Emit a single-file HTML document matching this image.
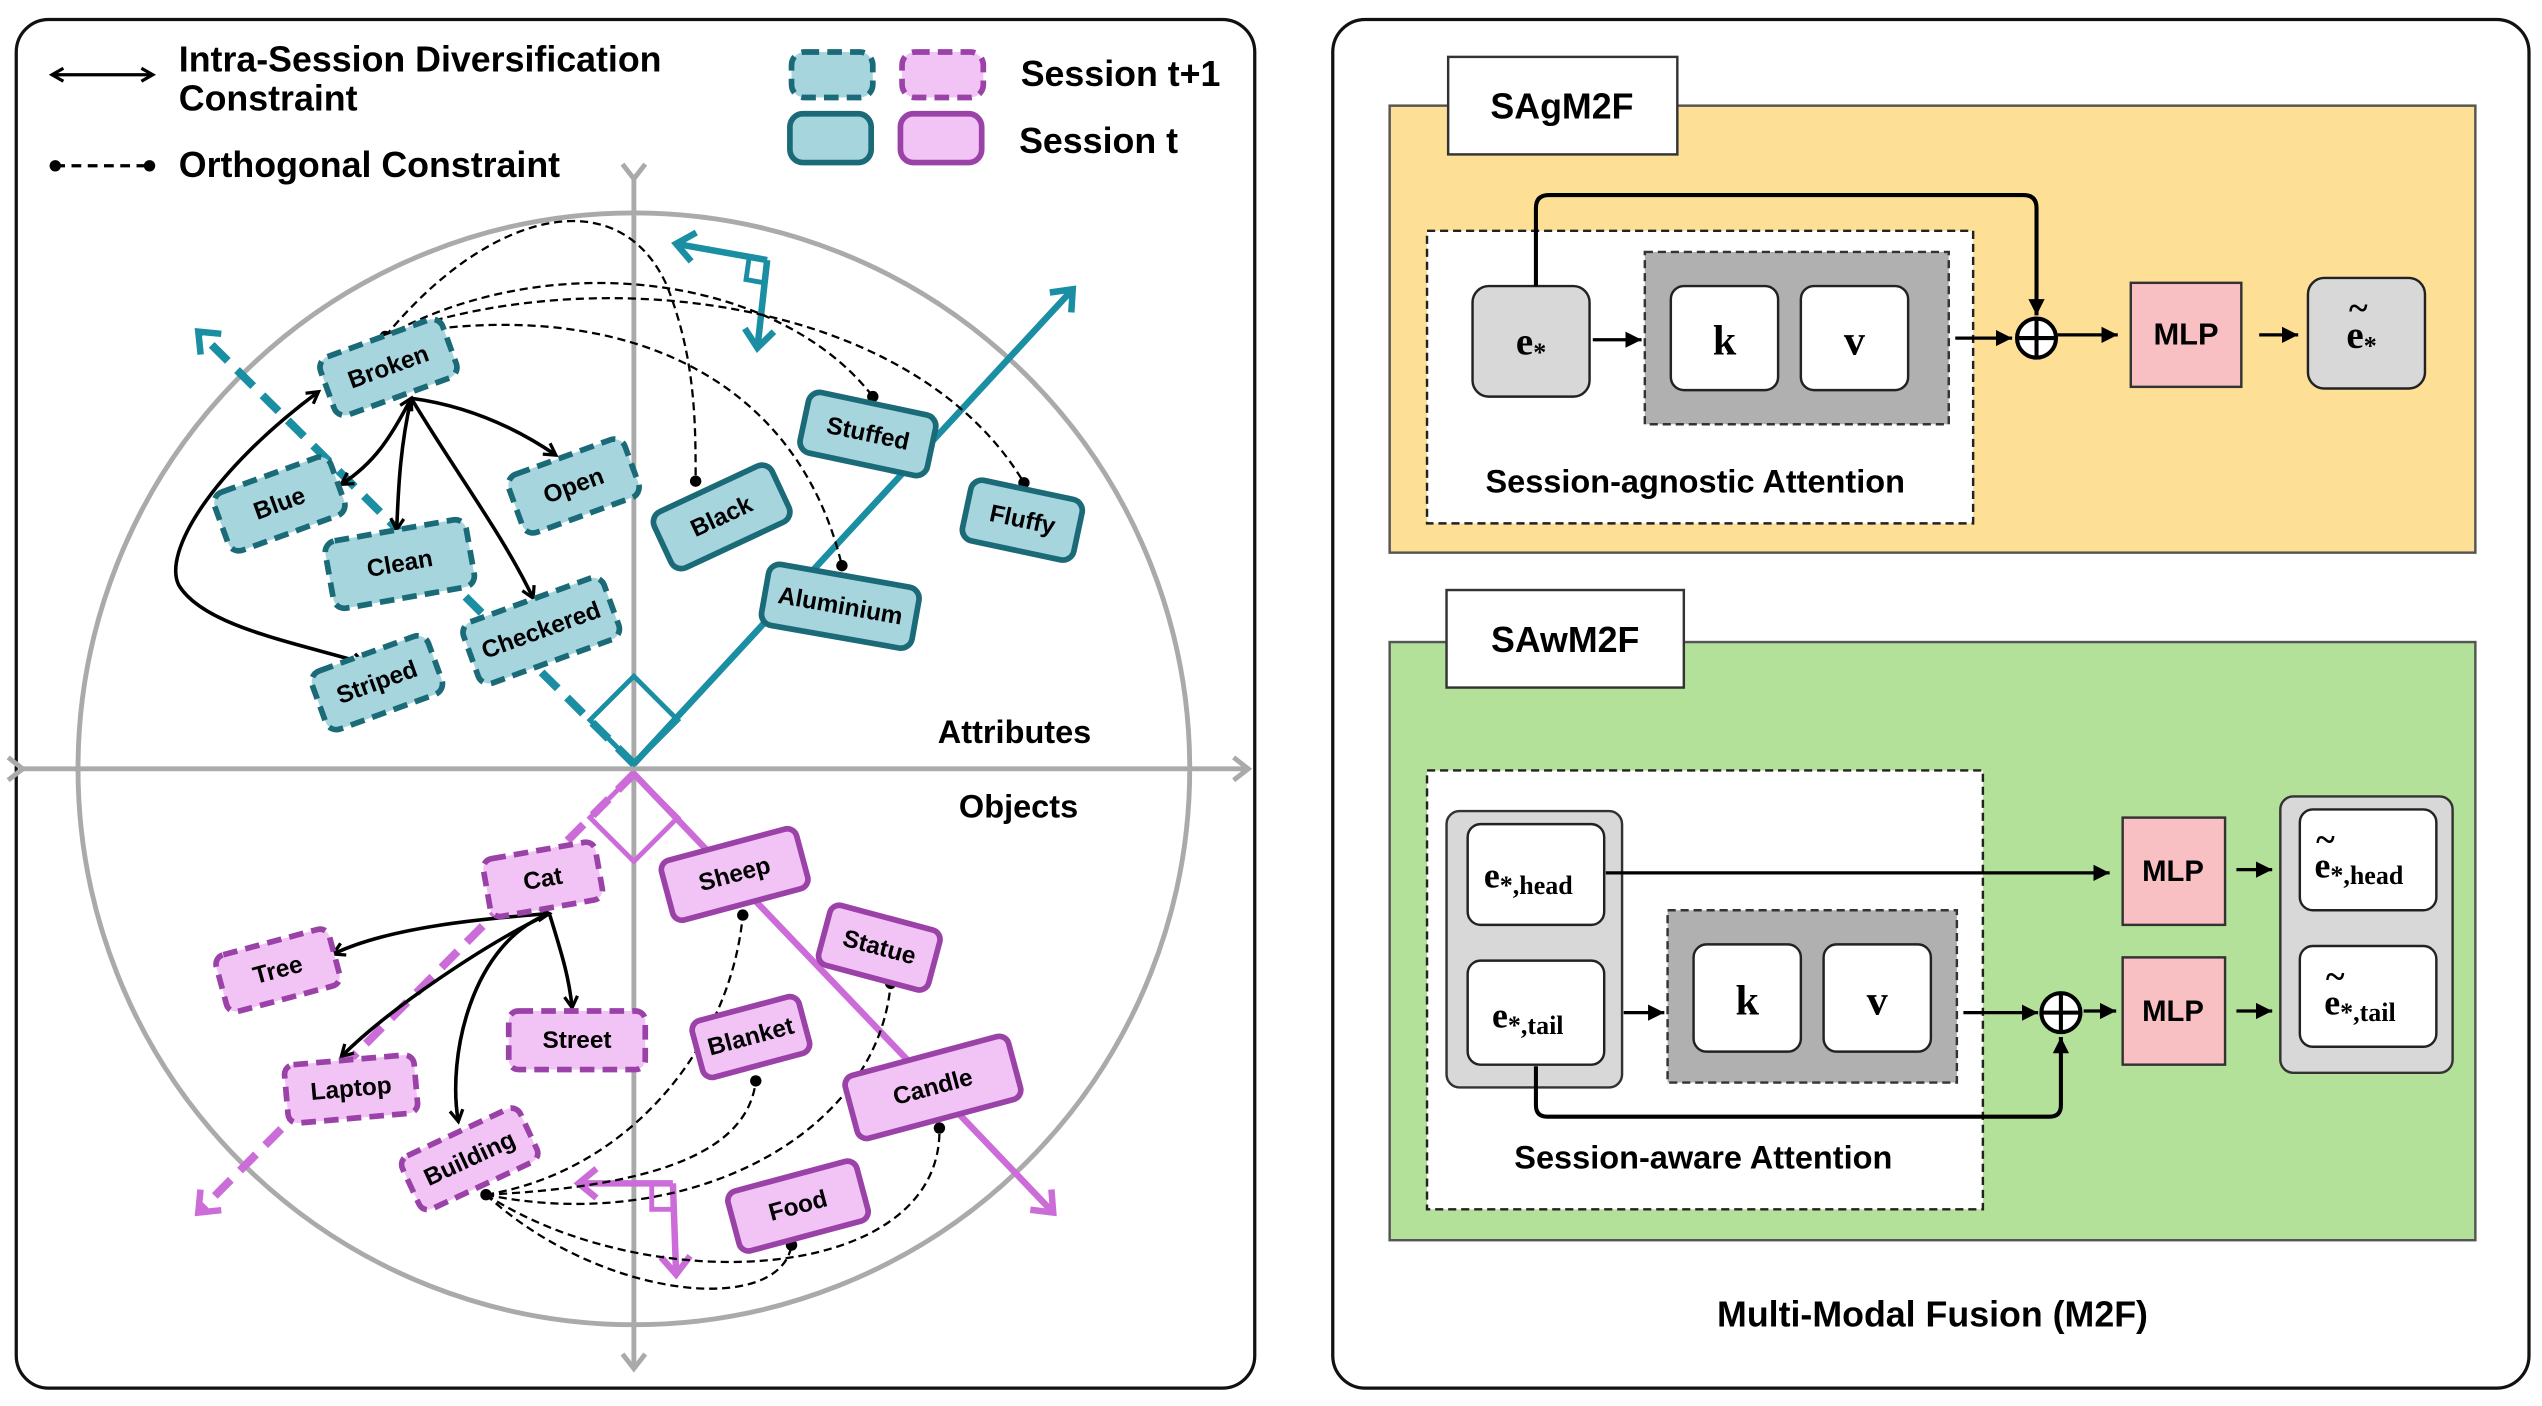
<!DOCTYPE html>
<html><head><meta charset="utf-8"><style>
html,body{margin:0;padding:0;background:#fff;width:2542px;height:1406px;overflow:hidden}
svg{display:block}
text{font-family:"Liberation Sans","DejaVu Sans",sans-serif;font-weight:bold}
.lb{font-size:15px;text-anchor:middle;dominant-baseline:central}
.tb{fill:#a6d5de;stroke:#1b6a78;stroke-width:3.5}
.pb{fill:#f2c4f6;stroke:#9a42a8;stroke-width:3.5}
.d{stroke-dasharray:9 5}
.con{fill:none;stroke:#000;stroke-width:2.2}
.orth{fill:none;stroke:#000;stroke-width:1.4;stroke-dasharray:5 3}
.e{font-family:"Liberation Serif",serif;font-weight:bold}
</style></head><body>
<svg width="2542" height="1406" viewBox="0 0 1564 865" preserveAspectRatio="none">
<defs>
<marker id="ah" markerWidth="10" markerHeight="10" refX="8" refY="5" orient="auto" markerUnits="userSpaceOnUse"><path d="M1,1 L8,5 L1,9" fill="none" stroke="#000" stroke-width="2"/></marker>
<marker id="ahs" markerWidth="10" markerHeight="10" refX="2" refY="5" orient="auto" markerUnits="userSpaceOnUse"><path d="M9,1 L2,5 L9,9" fill="none" stroke="#000" stroke-width="2"/></marker>
<marker id="af" markerWidth="12" markerHeight="12" refX="10" refY="6" orient="auto" markerUnits="userSpaceOnUse"><path d="M0,1 L10,6 L0,11 z" fill="#000"/></marker>
<marker id="at" markerWidth="24" markerHeight="24" refX="14" refY="12" orient="auto" markerUnits="userSpaceOnUse"><path d="M3,3 L14,12 L3,21" fill="none" stroke="#1a8ea2" stroke-width="4"/></marker>
<marker id="ap" markerWidth="24" markerHeight="24" refX="14" refY="12" orient="auto" markerUnits="userSpaceOnUse"><path d="M3,3 L14,12 L3,21" fill="none" stroke="#cc6cd8" stroke-width="4"/></marker>
<marker id="ag" markerWidth="20" markerHeight="20" refX="12" refY="10" orient="auto" markerUnits="userSpaceOnUse"><path d="M3,3 L12,10 L3,17" fill="none" stroke="#aaa" stroke-width="3"/></marker>
<marker id="dot" markerWidth="8" markerHeight="8" refX="4" refY="4" markerUnits="userSpaceOnUse"><circle cx="4" cy="4" r="3.5" fill="#000"/></marker>
</defs>

<rect x="10" y="12" width="762" height="842" rx="20" fill="#fff" stroke="#111" stroke-width="2"/>
<rect x="820" y="12" width="736" height="842" rx="20" fill="#fff" stroke="#111" stroke-width="2"/>

<circle cx="390" cy="473" r="342" fill="none" stroke="#aaa" stroke-width="3"/>
<line x1="14" y1="473" x2="768" y2="473" stroke="#aaa" stroke-width="3" marker-end="url(#ag)" marker-start="url(#ag)"/>
<line x1="390" y1="110" x2="390" y2="842" stroke="#aaa" stroke-width="3" marker-end="url(#ag)" marker-start="url(#ag)"/>

<line x1="390" y1="470" x2="660" y2="178" stroke="#1a8ea2" stroke-width="4" marker-end="url(#at)"/>
<line x1="390" y1="470" x2="122" y2="204" stroke="#1a8ea2" stroke-width="5" stroke-dasharray="14 8" marker-end="url(#at)"/>
<path d="M390,470 L363,443 L390,416 L417,443 Z" fill="none" stroke="#1a8ea2" stroke-width="3"/>
<line x1="390" y1="476" x2="648" y2="746" stroke="#cc6cd8" stroke-width="4" marker-end="url(#ap)"/>
<line x1="390" y1="476" x2="122" y2="746" stroke="#cc6cd8" stroke-width="5" stroke-dasharray="14 8" marker-end="url(#ap)"/>
<path d="M390,476 L363,503 L390,530 L417,503 Z" fill="none" stroke="#cc6cd8" stroke-width="3"/>

<line x1="472" y1="160" x2="416" y2="150" stroke="#1a8ea2" stroke-width="4" marker-end="url(#at)"/>
<line x1="472" y1="160" x2="466" y2="214" stroke="#1a8ea2" stroke-width="4" marker-end="url(#at)"/>
<path d="M461,158 L459,172 L470,174" fill="none" stroke="#1a8ea2" stroke-width="3"/>
<line x1="414" y1="728" x2="356" y2="728" stroke="#cc6cd8" stroke-width="4" marker-end="url(#ap)"/>
<line x1="414" y1="728" x2="416" y2="784" stroke="#cc6cd8" stroke-width="4" marker-end="url(#ap)"/>
<path d="M401,728 L401,744 L414,744" fill="none" stroke="#cc6cd8" stroke-width="3"/>

<g class="orth">
<path d="M237,207 C300,130 380,110 410,175 C428,220 428,260 428,296" marker-start="url(#dot)" marker-end="url(#dot)"/>
<path d="M237,207 C340,150 480,170 537,244" marker-end="url(#dot)"/>
<path d="M237,207 C360,160 560,180 630,297" marker-end="url(#dot)"/>
<path d="M237,207 C380,180 490,230 518,348" marker-end="url(#dot)"/>
<path d="M299,735 C390,720 450,640 457,563" marker-start="url(#dot)" marker-end="url(#dot)"/>
<path d="M299,735 C400,730 460,710 465,665" marker-end="url(#dot)"/>
<path d="M299,735 C420,760 540,700 548,605" marker-end="url(#dot)"/>
<path d="M299,735 C400,800 580,790 578,694" marker-end="url(#dot)"/>
<path d="M299,735 C370,800 480,810 487,766" marker-end="url(#dot)"/>
</g>

<g class="con">
<path d="M253,245 C240,270 230,285 210,298" marker-end="url(#ah)" marker-start="url(#ahs)"/>
<path d="M253,245 C245,280 245,310 244,326" marker-end="url(#ah)"/>
<path d="M253,245 C290,250 320,265 342,280" marker-end="url(#ah)"/>
<path d="M253,245 C280,290 310,330 328,368" marker-end="url(#ah)"/>
<path d="M196,241 C130,290 100,340 110,360 C125,385 180,395 224,408" marker-end="url(#ah)" marker-start="url(#ahs)"/>
<path d="M338,562 C300,565 240,570 205,587" marker-end="url(#ah)" marker-start="url(#ahs)"/>
<path d="M338,562 C300,580 240,620 210,650" marker-end="url(#ah)"/>
<path d="M338,562 C345,585 350,600 352,620" marker-end="url(#ah)"/>
<path d="M338,562 C290,580 275,650 282,690" marker-end="url(#ah)"/>
</g>

<g transform="translate(239,226) rotate(-20)"><rect x="-40" y="-19" width="80" height="38" rx="7" class="tb d"/><text class="lb">Broken</text></g>
<g transform="translate(172,310) rotate(-20)"><rect x="-38" y="-19" width="76" height="38" rx="7" class="tb d"/><text class="lb">Blue</text></g>
<g transform="translate(246,347) rotate(-10)"><rect x="-44" y="-21" width="88" height="42" rx="7" class="tb d"/><text class="lb">Clean</text></g>
<g transform="translate(353,299) rotate(-20)"><rect x="-38" y="-19" width="76" height="38" rx="7" class="tb d"/><text class="lb">Open</text></g>
<g transform="translate(232,420) rotate(-20)"><rect x="-38" y="-19" width="76" height="38" rx="7" class="tb d"/><text class="lb">Striped</text></g>
<g transform="translate(333,388) rotate(-20)"><rect x="-46" y="-20" width="92" height="40" rx="7" class="tb d"/><text class="lb">Checkered</text></g>
<g transform="translate(534,267) rotate(12)"><rect x="-40" y="-19" width="80" height="38" rx="7" class="tb"/><text class="lb">Stuffed</text></g>
<g transform="translate(444,318) rotate(-25)"><rect x="-40" y="-19" width="80" height="38" rx="7" class="tb"/><text class="lb">Black</text></g>
<g transform="translate(629,320) rotate(12)"><rect x="-35" y="-19" width="70" height="38" rx="7" class="tb"/><text class="lb">Fluffy</text></g>
<g transform="translate(517,373) rotate(10)"><rect x="-47" y="-19" width="94" height="38" rx="7" class="tb"/><text class="lb">Aluminium</text></g>

<g transform="translate(334,541) rotate(-10)"><rect x="-35" y="-18" width="70" height="36" rx="6" class="pb d"/><text class="lb">Cat</text></g>
<g transform="translate(171,597) rotate(-15)"><rect x="-36" y="-18" width="72" height="36" rx="6" class="pb d"/><text class="lb">Tree</text></g>
<g transform="translate(216,670) rotate(-5)"><rect x="-40" y="-18" width="80" height="36" rx="6" class="pb d"/><text class="lb">Laptop</text></g>
<g transform="translate(355,640)"><rect x="-42" y="-18" width="84" height="36" rx="6" class="pb d"/><text class="lb">Street</text></g>
<g transform="translate(289,713) rotate(-25)"><rect x="-40" y="-18" width="80" height="36" rx="6" class="pb d"/><text class="lb">Building</text></g>
<g transform="translate(452,538) rotate(-15)"><rect x="-43" y="-19" width="86" height="38" rx="6" class="pb"/><text class="lb">Sheep</text></g>
<g transform="translate(541,583) rotate(15)"><rect x="-35" y="-19" width="70" height="38" rx="6" class="pb"/><text class="lb">Statue</text></g>
<g transform="translate(462,638) rotate(-15)"><rect x="-34" y="-18" width="68" height="36" rx="6" class="pb"/><text class="lb">Blanket</text></g>
<g transform="translate(574,669) rotate(-15)"><rect x="-52" y="-20" width="104" height="40" rx="6" class="pb"/><text class="lb">Candle</text></g>
<g transform="translate(491,742) rotate(-15)"><rect x="-41" y="-19" width="82" height="38" rx="6" class="pb"/><text class="lb">Food</text></g>

<text x="577" y="457" font-size="20">Attributes</text>
<text x="590" y="503" font-size="20">Objects</text>

<line x1="32" y1="46" x2="94" y2="46" stroke="#000" stroke-width="2" marker-end="url(#ah)" marker-start="url(#ahs)"/>
<text x="110" y="44" font-size="22">Intra-Session Diversification</text>
<text x="110" y="68" font-size="22">Constraint</text>
<line x1="34" y1="102" x2="92" y2="102" stroke="#000" stroke-width="2" stroke-dasharray="6 4" marker-start="url(#dot)" marker-end="url(#dot)"/>
<text x="110" y="109" font-size="22">Orthogonal Constraint</text>
<rect x="487" y="32" width="50" height="28" rx="8" class="tb d"/>
<rect x="555" y="32" width="50" height="28" rx="8" class="pb d"/>
<rect x="486" y="70" width="50" height="30" rx="8" class="tb"/>
<rect x="554" y="70" width="50" height="30" rx="8" class="pb"/>
<text x="628" y="53" font-size="22">Session t+1</text>
<text x="627" y="94" font-size="22">Session t</text>

<rect x="855" y="65" width="668" height="275" fill="#fde096" stroke="#555" stroke-width="1.5"/>
<rect x="891" y="35" width="141" height="60" fill="#fff" stroke="#333" stroke-width="1.5"/>
<text x="961" y="73" font-size="22" text-anchor="middle">SAgM2F</text>
<rect x="878" y="142" width="336" height="180" fill="#fff" stroke="#222" stroke-width="1.5" stroke-dasharray="5 3"/>
<rect x="906" y="176" width="72" height="68" rx="10" fill="#d8d8d8" stroke="#222" stroke-width="1.5"/>
<text x="942" y="218" class="e" font-size="24" text-anchor="middle">e<tspan font-size="16" dy="4">*</tspan></text>
<rect x="1012" y="155" width="187" height="106" fill="#b0b0b0" stroke="#333" stroke-width="1.5" stroke-dasharray="5 3"/>
<rect x="1028" y="176" width="66" height="64" rx="8" fill="#fff" stroke="#222" stroke-width="1.5"/>
<rect x="1108" y="176" width="66" height="64" rx="8" fill="#fff" stroke="#222" stroke-width="1.5"/>
<text x="1061" y="218" class="e" font-size="26" text-anchor="middle">k</text>
<text x="1141" y="218" class="e" font-size="26" text-anchor="middle">v</text>
<line x1="980" y1="209" x2="1010" y2="209" stroke="#000" stroke-width="2" marker-end="url(#af)"/>
<line x1="1203" y1="208" x2="1238" y2="208" stroke="#000" stroke-width="2" marker-end="url(#af)"/>
<path d="M945,176 L945,128 Q945,120 953,120 L1245,120 Q1253,120 1253,128 L1253,194" fill="none" stroke="#000" stroke-width="2.5" marker-end="url(#af)"/>
<circle cx="1253" cy="208" r="12" fill="#fff" stroke="#000" stroke-width="2.5"/>
<path d="M1241,208 H1265 M1253,196 V220" stroke="#000" stroke-width="2.5"/>
<line x1="1266" y1="206" x2="1303" y2="206" stroke="#000" stroke-width="2" marker-end="url(#af)"/>
<rect x="1311" y="174" width="68" height="64" fill="#f9c0c4" stroke="#333" stroke-width="1.5"/>
<text x="1345" y="212" font-size="19" text-anchor="middle">MLP</text>
<line x1="1390" y1="206" x2="1414" y2="206" stroke="#000" stroke-width="2" marker-end="url(#af)"/>
<rect x="1420" y="171" width="72" height="68" rx="10" fill="#d8d8d8" stroke="#222" stroke-width="1.5"/>
<text x="1453" y="214" class="e" font-size="24" text-anchor="middle">e<tspan font-size="16" dy="4">*</tspan></text>
<text x="1451" y="197" class="e" font-size="22" text-anchor="middle">~</text>
<text x="1043" y="303" font-size="20" text-anchor="middle">Session-agnostic Attention</text>

<rect x="855" y="395" width="668" height="368" fill="#b3e19a" stroke="#555" stroke-width="1.5"/>
<rect x="890" y="363" width="146" height="60" fill="#fff" stroke="#333" stroke-width="1.5"/>
<text x="963" y="401" font-size="22" text-anchor="middle">SAwM2F</text>
<rect x="878" y="474" width="342" height="270" fill="#fff" stroke="#222" stroke-width="1.5" stroke-dasharray="5 3"/>
<rect x="890" y="499" width="108" height="170" rx="8" fill="#d8d8d8" stroke="#333" stroke-width="1.5"/>
<rect x="903" y="507" width="84" height="62" rx="8" fill="#fff" stroke="#222" stroke-width="1.5"/>
<rect x="903" y="591" width="84" height="64" rx="8" fill="#fff" stroke="#222" stroke-width="1.5"/>
<text x="913" y="546" class="e" font-size="22">e<tspan font-size="16" dy="4">*,head</tspan></text>
<text x="918" y="632" class="e" font-size="22">e<tspan font-size="16" dy="4">*,tail</tspan></text>
<rect x="1026" y="560" width="178" height="106" fill="#b0b0b0" stroke="#333" stroke-width="1.5" stroke-dasharray="5 3"/>
<rect x="1042" y="581" width="66" height="66" rx="8" fill="#fff" stroke="#222" stroke-width="1.5"/>
<rect x="1122" y="581" width="66" height="66" rx="8" fill="#fff" stroke="#222" stroke-width="1.5"/>
<text x="1075" y="624" class="e" font-size="26" text-anchor="middle">k</text>
<text x="1155" y="624" class="e" font-size="26" text-anchor="middle">v</text>
<line x1="988" y1="537" x2="1298" y2="537" stroke="#000" stroke-width="2" marker-end="url(#af)"/>
<line x1="999" y1="623" x2="1024" y2="623" stroke="#000" stroke-width="2" marker-end="url(#af)"/>
<line x1="1208" y1="623" x2="1254" y2="623" stroke="#000" stroke-width="2" marker-end="url(#af)"/>
<path d="M945,656 L945,680 Q945,687 952,687 L1261,687 Q1268,687 1268,680 L1268,638" fill="none" stroke="#000" stroke-width="2.5" marker-end="url(#af)"/>
<circle cx="1268" cy="623" r="12" fill="#fff" stroke="#000" stroke-width="2.5"/>
<path d="M1256,623 H1280 M1268,611 V635" stroke="#000" stroke-width="2.5"/>
<line x1="1282" y1="622" x2="1302" y2="622" stroke="#000" stroke-width="2" marker-end="url(#af)"/>
<rect x="1306" y="503" width="63" height="66" fill="#f9c0c4" stroke="#333" stroke-width="1.5"/>
<rect x="1306" y="589" width="63" height="66" fill="#f9c0c4" stroke="#333" stroke-width="1.5"/>
<text x="1337" y="542" font-size="18" text-anchor="middle">MLP</text>
<text x="1337" y="628" font-size="18" text-anchor="middle">MLP</text>
<line x1="1376" y1="535" x2="1398" y2="535" stroke="#000" stroke-width="2" marker-end="url(#af)"/>
<line x1="1376" y1="622" x2="1398" y2="622" stroke="#000" stroke-width="2" marker-end="url(#af)"/>
<rect x="1403" y="490" width="106" height="170" rx="8" fill="#d8d8d8" stroke="#333" stroke-width="1.5"/>
<rect x="1415" y="498" width="84" height="62" rx="8" fill="#fff" stroke="#222" stroke-width="1.5"/>
<rect x="1415" y="582" width="84" height="62" rx="8" fill="#fff" stroke="#222" stroke-width="1.5"/>
<text x="1424" y="540" class="e" font-size="22">e<tspan font-size="16" dy="4">*,head</tspan></text>
<text x="1425" y="524" class="e" font-size="22">~</text>
<text x="1430" y="624" class="e" font-size="22">e<tspan font-size="16" dy="4">*,tail</tspan></text>
<text x="1431" y="608" class="e" font-size="22">~</text>
<text x="1048" y="719" font-size="20" text-anchor="middle">Session-aware Attention</text>
<text x="1189" y="816" font-size="22" text-anchor="middle">Multi-Modal Fusion (M2F)</text>
</svg>
</body></html>
